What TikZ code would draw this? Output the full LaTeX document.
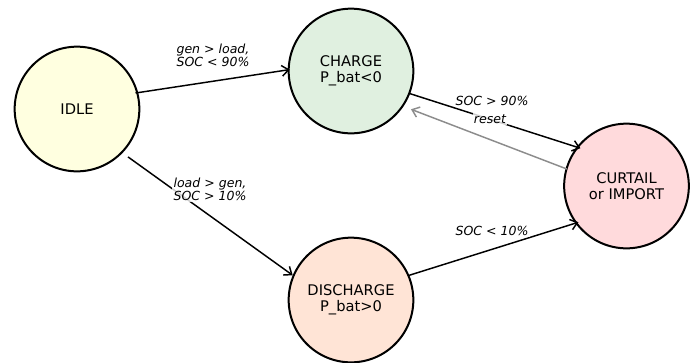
\documentclass[tikz,border=0pt]{standalone}
\usepackage{fontspec}
\setmainfont{DejaVu Sans}
\usetikzlibrary{arrows.meta,calc}
\definecolor{idlefill}{HTML}{FFFFE0}
\definecolor{chargefill}{HTML}{E0F0E0}
\definecolor{dischargefill}{HTML}{FFE4D6}
\definecolor{curtailfill}{HTML}{FFDADC}
\definecolor{edgegray}{HTML}{8C8C8C}
\begin{document}
\begin{tikzpicture}[x=0.75pt,y=-0.75pt,
  state/.style={circle,draw=black,line width=1.5pt,minimum size=93.5pt,inner sep=0pt,
    align=center,font=\fontsize{11}{11.8}\selectfont},
  trans/.style={line width=1.1pt,-{Straight Barb[length=5pt,width=8pt,line width=1.1pt]}},
  lbl/.style={fill=white,fill opacity=0.8,text opacity=1,inner sep=1pt,align=center,
    font=\fontsize{9.4}{10}\selectfont\itshape}]
\useasboundingbox (0,0) rectangle (693,362);
\node[state,fill=idlefill] (idle) at (77,109) {IDLE};
\node[state,fill=chargefill] (charge) at (351,71) {CHARGE\\P\_bat<0};
\node[state,fill=dischargefill] (discharge) at (351,300) {DISCHARGE\\P\_bat>0};
\node[state,fill=curtailfill] (curtail) at (626.5,186) {CURTAIL\\or IMPORT};

\draw[trans,shorten <=-2pt,shorten >=-1.5pt] (idle.15) -- (charge.179);
\draw[trans,shorten <=5pt,shorten >=0pt] (idle.-44) -- (discharge.157);
\draw[trans,shorten <=-1pt,shorten >=-3pt] (charge.-21) -- (curtail.142);
\draw[trans,draw=edgegray,shorten <=-1pt,shorten >=6pt] (curtail.164) -- (charge.-34);
\draw[trans,shorten <=-1pt,shorten >=-2.5pt] (discharge.23) -- (curtail.216);

\node[lbl] (l1) at (213,55) {gen > load,\\SOC < 90\%};
\node[lbl] (l2) at (210,189) {load > gen,\\SOC > 10\%};
\node[lbl] (l3) at (492,101) {SOC > 90\%};
\node[lbl] (l4) at (490,119) {reset};
\node[lbl] (l5) at (492,231) {SOC < 10\%};
\end{tikzpicture}
\end{document}
